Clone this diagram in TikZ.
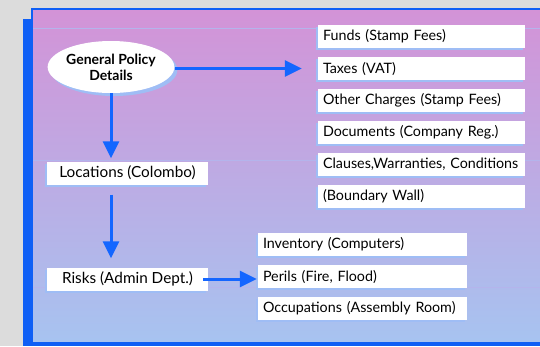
\documentclass[tikz,border=0pt]{standalone}
\usepackage{fontspec}
\setmainfont{Lato}
\usetikzlibrary{arrows.meta,shapes.geometric,shadows}

\definecolor{bggrey}{HTML}{DCDCDC}
\definecolor{frameblue}{HTML}{0F5FF5}
\definecolor{arrowblue}{HTML}{1466FF}
\definecolor{paneltop}{HTML}{D393D7}
\definecolor{panelbot}{HTML}{A7C3F0}
\definecolor{halo}{HTML}{9FBDF5}
\definecolor{rule}{HTML}{B4B4EC}

\tikzset{
  item/.style={fill=white, minimum height=23pt, inner ysep=0pt, font=\fontsize{14.3}{16}\selectfont,
               drop shadow={shadow xshift=-2pt, shadow yshift=-2pt, fill=halo, opacity=1}},
  listitem/.style={item, inner xsep=5pt, minimum width=207pt, text width=197pt, align=left},
  stepitem/.style={item, minimum width=161pt, align=center, font=\fontsize{15.3}{16}\selectfont},
  flow/.style={arrowblue, line width=3pt, -{Triangle[length=17pt,width=16pt]}}
}

\begin{document}
\begin{tikzpicture}[x=1pt,y=-1pt]
  \useasboundingbox[fill=bggrey] (0,0) rectangle (540,346);
  % panel with its blue backing
  \fill[frameblue] (23,19) rectangle (540,346);
  \shade[top color=paneltop, bottom color=panelbot] (33,10) rectangle (540,341);
  \draw[frameblue, line width=2pt] (540,9) -- (32,9) -- (32,341);
  \foreach \y in {28,160,287}
    \draw[rule, line width=0.6pt] (33,\y) -- (540,\y);

  % general policy
  \node[ellipse, fill=white, minimum width=123pt, minimum height=52pt, inner sep=0pt, align=center,
        font=\bfseries\fontsize{14}{16}\selectfont,
        drop shadow={shadow xshift=3pt, shadow yshift=-3pt, fill=halo, opacity=1}]
        (gp) at (111,67) {General Policy\\Details};

  \node[listitem] (funds)  at (421.5,36.5)  {\mbox{Funds (Stamp Fees)}};
  \node[listitem] (taxes)  at (421.5,68.5)  {\mbox{Taxes (VAT)}};
  \node[listitem] (charge) at (421.5,100.5) {\mbox{Other Charges (Stamp Fees)}};
  \node[listitem] (docs)   at (421.5,132.5) {\mbox{Documents (Company Reg.)}};
  \node[listitem] (claus)  at (421.5,164.5) {\mbox{Clauses,Warranties, Conditions}};
  \node[listitem] (bwall)  at (421.5,196.5) {\mbox{(Boundary Wall)}};

  % locations and risks
  \node[stepitem] (loc)   at (127.5,173) {Locations (Colombo)};
  \node[stepitem] (risks) at (127.5,279) {Risks (Admin Dept.)};

  \node[listitem, minimum width=209pt, text width=199pt] (inv)   at (362.5,244.5) {\mbox{Inventory (Computers)}};
  \node[listitem, minimum width=209pt, text width=199pt] (peril) at (362.5,276.5) {\mbox{Perils (Fire, Flood)}};
  \node[listitem, minimum width=209pt, text width=199pt] (occup) at (362.5,308.5) {\mbox{Occupations (Assembly Room)}};

  % arrows
  \draw[flow, shorten >=16pt] (gp.east |- taxes.west) -- (taxes.west);
  \draw[flow, shorten >=3pt] (gp.south) -- (gp.south |- loc.north);
  \draw[flow, shorten <=10pt, shorten >=9pt] (loc.south -| gp.south) -- (risks.north -| gp.south);
  \draw[flow, shorten <=-5pt, shorten >=1pt] (risks.east) -- (risks.east -| peril.west);
\end{tikzpicture}
\end{document}
